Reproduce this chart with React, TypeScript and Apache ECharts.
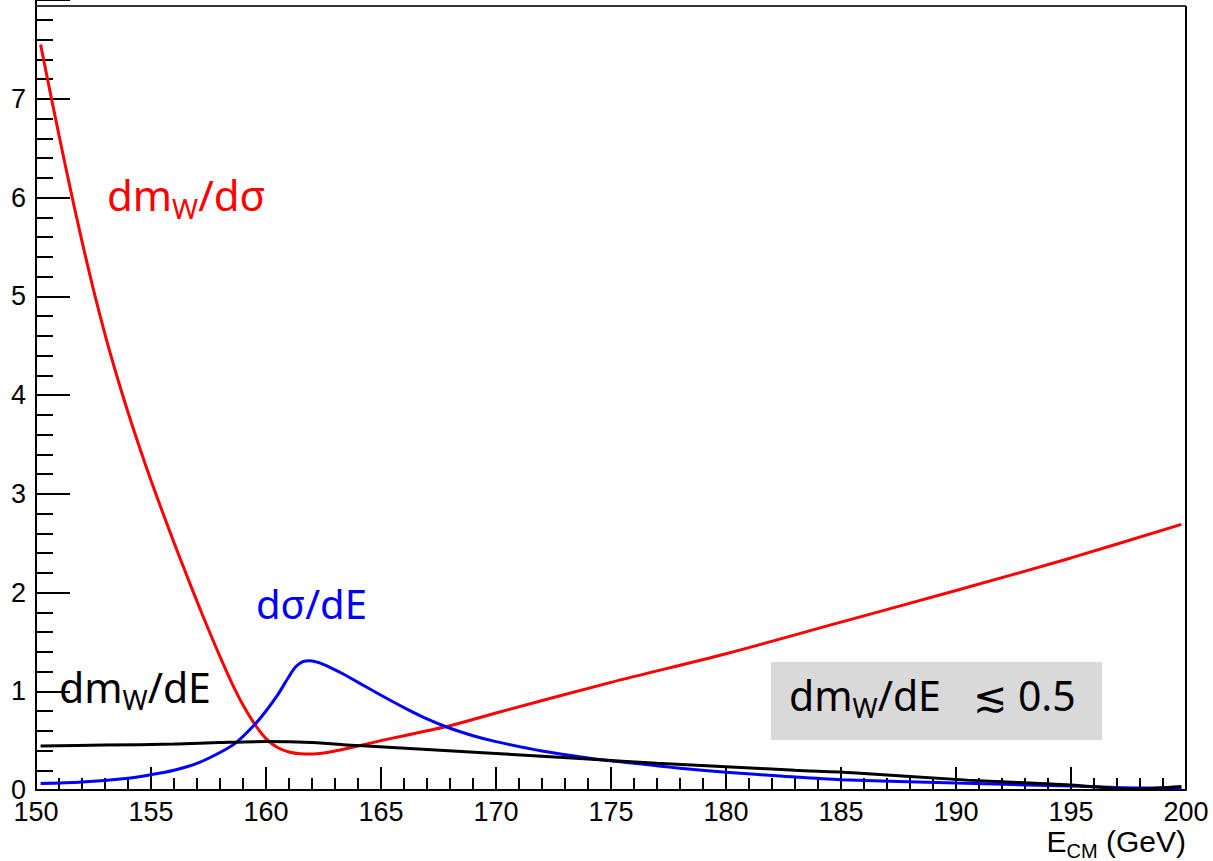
import React, { useEffect, useRef } from "react";
import * as echarts from "echarts";

// ---- data ----
const redX = [150.2, 150.5, 151, 151.5, 152, 152.5, 153, 153.5, 154, 154.5, 155, 155.5, 156, 156.5, 157, 157.5, 158, 158.5, 159, 159.5, 160, 160.5, 161, 161.5, 162, 162.5, 163, 164, 165, 166, 167, 168, 170, 175, 180, 185, 190, 195, 199.8];
const redY = [7.55, 7.2, 6.63, 6.08, 5.555, 5.065, 4.615, 4.205, 3.825, 3.47, 3.135, 2.815, 2.505, 2.205, 1.91, 1.625, 1.35, 1.09, 0.86, 0.67, 0.52, 0.43, 0.385, 0.367, 0.365, 0.375, 0.395, 0.445, 0.5, 0.55, 0.6, 0.65, 0.78, 1.09, 1.38, 1.70, 2.02, 2.35, 2.69];

const blueX = [150.2, 152, 154, 155, 156, 157, 158, 158.7, 159.5, 160, 160.5, 161, 161.3, 161.6, 161.9, 162.3, 162.8, 163.4, 164, 165, 166, 167, 168, 169, 170, 172, 174, 176, 178, 180, 182.5, 185, 190, 195, 198, 199.8];
const blueY = [0.065, 0.08, 0.12, 0.155, 0.2, 0.27, 0.38, 0.48, 0.66, 0.8, 0.96, 1.15, 1.25, 1.3, 1.31, 1.29, 1.24, 1.17, 1.09, 0.96, 0.835, 0.72, 0.625, 0.55, 0.49, 0.395, 0.325, 0.27, 0.22, 0.18, 0.14, 0.105, 0.07, 0.04, 0.02, 0.02];

const blackX = [150.2, 153, 156, 158, 160, 162, 164, 167, 170, 174, 177, 180, 183, 185.5, 190.5, 195, 197.7, 199.8];
const blackY = [0.445, 0.455, 0.465, 0.48, 0.49, 0.48, 0.45, 0.41, 0.37, 0.315, 0.27, 0.235, 0.2, 0.175, 0.1, 0.05, 0.008, 0.035];

const xTicks = { min: 150, max: 200, interval: 5 };
const yTicks = { min: 0, max: 8, interval: 1 };

const labelFont = "'Liberation Sans', Arial, Helvetica, sans-serif";
const annFont = "'Noto Sans', 'DejaVu Sans', sans-serif";

function pairs(xs: number[], ys: number[]) {
  return xs.map((x, i) => [x, ys[i]]);
}

function subLabel(main1: string, sub: string, main2: string, size: number, subSize: number, color: string) {
  const lh = Math.round(size * 1.3);
  const rich: any = {
    m: { fontSize: size, fontFamily: annFont, fill: color, color, lineHeight: lh, verticalAlign: "middle" },
    s: { fontSize: subSize, fontFamily: annFont, fill: color, color, lineHeight: subSize, verticalAlign: "bottom" },
  };
  return {
    text: sub ? `{m|${main1}}{s|${sub}}{m|${main2}}` : `{m|${main1}${main2}}`,
    fill: color,
    fontFamily: annFont,
    fontSize: size,
    align: "left",
    verticalAlign: "top",
    textAlign: "left",
    textVerticalAlign: "top",
    rich,
  };
}

export default function App() {
  const ref = useRef<HTMLDivElement>(null);
  useEffect(() => {
    if (!ref.current) return;
    const chart = echarts.init(ref.current, undefined, { renderer: "svg" });
    const lineCommon = { type: "line", showSymbol: false, symbol: "none", smooth: 0.3, clip: true };
    chart.setOption({
      animation: false,
      backgroundColor: "#ffffff",
      grid: { left: 36, right: 27, top: -2, bottom: 71, show: false },
      xAxis: {
        type: "value",
        min: xTicks.min,
        max: xTicks.max,
        interval: xTicks.interval,
        axisLine: { show: true, onZero: false, lineStyle: { color: "#000", width: 2 } },
        axisTick: { show: true, inside: true, length: 23, lineStyle: { color: "#000", width: 2 } },
        minorTick: { show: true, splitNumber: 5, length: 12, lineStyle: { color: "#000", width: 2 } },
        splitLine: { show: false },
        axisLabel: { color: "#000", fontSize: 27, fontFamily: labelFont, margin: 8 },
      },
      yAxis: {
        type: "value",
        min: yTicks.min,
        max: yTicks.max,
        interval: yTicks.interval,
        axisLine: { show: true, onZero: false, lineStyle: { color: "#000", width: 2 } },
        axisTick: { show: true, inside: true, length: 34, lineStyle: { color: "#000", width: 2 } },
        minorTick: { show: true, splitNumber: 5, length: 17, lineStyle: { color: "#000", width: 2 } },
        splitLine: { show: false },
        axisLabel: { color: "#000", fontSize: 27, fontFamily: labelFont, margin: 10, showMaxLabel: false },
      },
      series: [
        { ...lineCommon, name: "dmW/dσ", data: pairs(redX, redY), lineStyle: { color: "#ff0000", width: 3 }, z: 3 },
        { ...lineCommon, name: "dσ/dE", data: pairs(blueX, blueY), lineStyle: { color: "#0000ff", width: 3 }, z: 4 },
        { ...lineCommon, name: "dmW/dE", data: pairs(blackX, blackY), lineStyle: { color: "#000000", width: 3 }, z: 5 },
      ],
      graphic: [
        { type: "line", shape: { x1: 36, y1: 6, x2: 1186, y2: 6 }, style: { stroke: "#333", lineWidth: 2 }, z: 10 },
        { type: "line", shape: { x1: 1186, y1: 6, x2: 1186, y2: 790 }, style: { stroke: "#000", lineWidth: 2 }, z: 10 },
        { type: "rect", shape: { x: 771, y: 662, width: 331, height: 78 }, style: { fill: "#d9d9d9" }, z: 1 },
        { type: "text", x: 107, y: 167, style: subLabel("dm", "W", "/dσ", 42, 28, "#ff0000"), z: 20 },
        { type: "text", x: 256, y: 577, style: subLabel("dσ/dE", "", "", 40, 26, "#0000ff"), z: 20 },
        { type: "text", x: 59, y: 660, style: subLabel("dm", "W", "/dE", 41, 27, "#000000"), z: 20 },
        { type: "text", x: 789, y: 668, style: subLabel("dm", "W", "/dE   ≲ 0.5", 41, 27, "#000000"), z: 20 },
        {
          type: "text",
          x: 1186,
          y: 821,
          z: 20,
          style: {
            text: "{m|E}{s|CM}{m| (GeV)}",
            fill: "#000",
            fontFamily: labelFont,
            fontSize: 30,
            align: "right",
            textAlign: "right",
            verticalAlign: "top",
            textVerticalAlign: "top",
            rich: {
              m: { fontSize: 30, fontFamily: labelFont, fill: "#000", lineHeight: 40, verticalAlign: "middle" },
              s: { fontSize: 20, fontFamily: labelFont, fill: "#000", lineHeight: 20, verticalAlign: "bottom" },
            },
          },
        },
      ],
    });
    return () => chart.dispose();
  }, []);
  return <div ref={ref} style={{ width: 1213, height: 861, position: "absolute", left: 0, top: 0 }} />;
}
